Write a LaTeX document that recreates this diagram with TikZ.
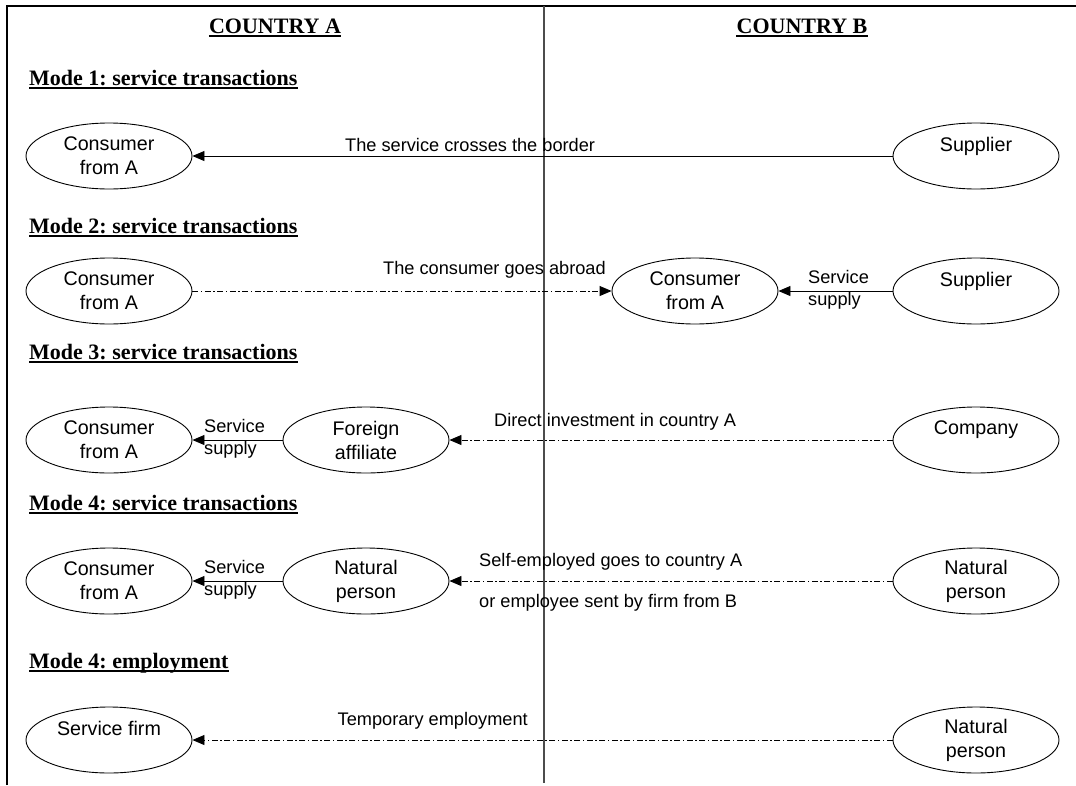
\documentclass[tikz,border=0pt]{standalone}
\usepackage{fontspec}
\setmainfont{Liberation Serif}
\newfontfamily\arialf{Liberation Sans}
\usetikzlibrary{arrows.meta,shapes.geometric}
\frenchspacing
\begin{document}
\begin{tikzpicture}[x=1pt,y=-1pt,
  bub/.style={draw,ellipse,minimum width=166pt,minimum height=66pt,inner sep=0pt,align=center,font=\arialf\fontsize{19.7}{24}\selectfont,line width=0.9pt},
  lbl/.style={font=\arialf\fontsize{18.2}{22}\selectfont,inner sep=0pt,align=center},
  lbll/.style={font=\arialf\fontsize{18.2}{22}\selectfont,inner sep=0pt,align=left,anchor=west},
  head/.style={font=\bfseries\fontsize{22}{26}\selectfont,inner sep=0pt,anchor=base west},
  ctry/.style={font=\bfseries\fontsize{22}{26}\selectfont,inner sep=0pt,anchor=base},
  uline/.style={line width=2pt},
  frame/.style={line width=2.5pt},
  divider/.style={line width=1.5pt,draw=black!70},
  solidarr/.style={-{Triangle[length=12pt,width=10pt]},line width=0.9pt},
  dasharr/.style={solidarr,dash pattern=on 6pt off 2.5pt on 1.5pt off 2.5pt},
]
\useasboundingbox (0,0) rectangle (1076,785);
% frame and divider
\coordinate (fbl) at (7,785);
\coordinate (ftl) at (7,6);
\coordinate (ftr) at (1076,6);
\draw[frame] (fbl) -- (ftl) -- (ftr);
\coordinate (dtop) at (544,6);
\coordinate (dbot) at (544,783);
\draw[divider] (dtop) -- (dbot);

% country headings
\node[ctry] (ca) at (275,33) {COUNTRY A};
\node[ctry] (cb) at (802,33) {COUNTRY B};
\draw[uline] ([yshift=-2.5pt]ca.base west) -- ([yshift=-2.5pt]ca.base east);
\draw[uline] ([yshift=-2.5pt]cb.base west) -- ([yshift=-2.5pt]cb.base east);

% mode headings
\node[head] (h1) at (29,85) {Mode 1: service transactions};
\node[head] (h2) at (29,233) {Mode 2: service transactions};
\node[head] (h3) at (29,359) {Mode 3: service transactions};
\node[head] (h4) at (29,510) {Mode 4: service transactions};
\node[head] (h5) at (29,668) {Mode 4: employment};
\foreach \h in {h1,h2,h3,h4,h5}
  \draw[uline] ([yshift=-2.5pt]\h.base west) -- ([yshift=-2.5pt]\h.base east);

% row 1
\node[bub] (c1) at (109,156) {Consumer\\from A};
\node[bub] (s1) at (976,156) {Supplier\\\mbox{}};
\draw[solidarr] (s1) -- (c1);
\node[lbl,anchor=west] (l1) at (345,145) {The service crosses the border};

% row 2
\node[bub] (c2) at (109,291) {Consumer\\from A};
\node[bub] (m2) at (695,291) {Consumer\\from A};
\node[bub] (s2) at (976,291) {Supplier\\\mbox{}};
\draw[dasharr] (c2) -- (m2);
\draw[solidarr] (s2) -- (m2);
\node[lbl,anchor=west] (l2) at (383,270) {The consumer goes abroad};
\node[lbll] (l2b) at (808,290) {Service\\supply};

% row 3
\node[bub] (c3) at (109,440) {Consumer\\from A};
\node[bub] (f3) at (366,440) {Foreign\\affiliate};
\node[bub] (co3) at (976,440) {Company\\\mbox{}};
\draw[solidarr] (f3) -- (c3);
\draw[dasharr] (co3) -- (f3);
\node[lbll] (l3a) at (204,439) {Service\\supply};
\node[lbl,anchor=west] (l3b) at (494,422) {Direct investment in country A};

% row 4
\node[bub] (c4) at (109,581) {Consumer\\from A};
\node[bub] (n4) at (366,581) {Natural\\person};
\node[bub] (nb4) at (976,581) {Natural\\person};
\draw[solidarr] (n4) -- (c4);
\draw[dasharr] (nb4) -- (n4);
\node[lbll] (l4a) at (204,580) {Service\\supply};
\node[lbl,anchor=west] (l4b) at (479,562) {Self-employed goes to country A};
\node[lbl,anchor=west] (l4c) at (479,603) {or employee sent by firm from B};

% row 5
\node[bub] (sf5) at (109,740) {Service firm\\\mbox{}};
\node[bub] (nb5) at (976,740) {Natural\\person};
\draw[dasharr] (nb5) -- (sf5);
\node[lbl,anchor=east] (l5) at (528,721) {Temporary employment};
\end{tikzpicture}
\end{document}
